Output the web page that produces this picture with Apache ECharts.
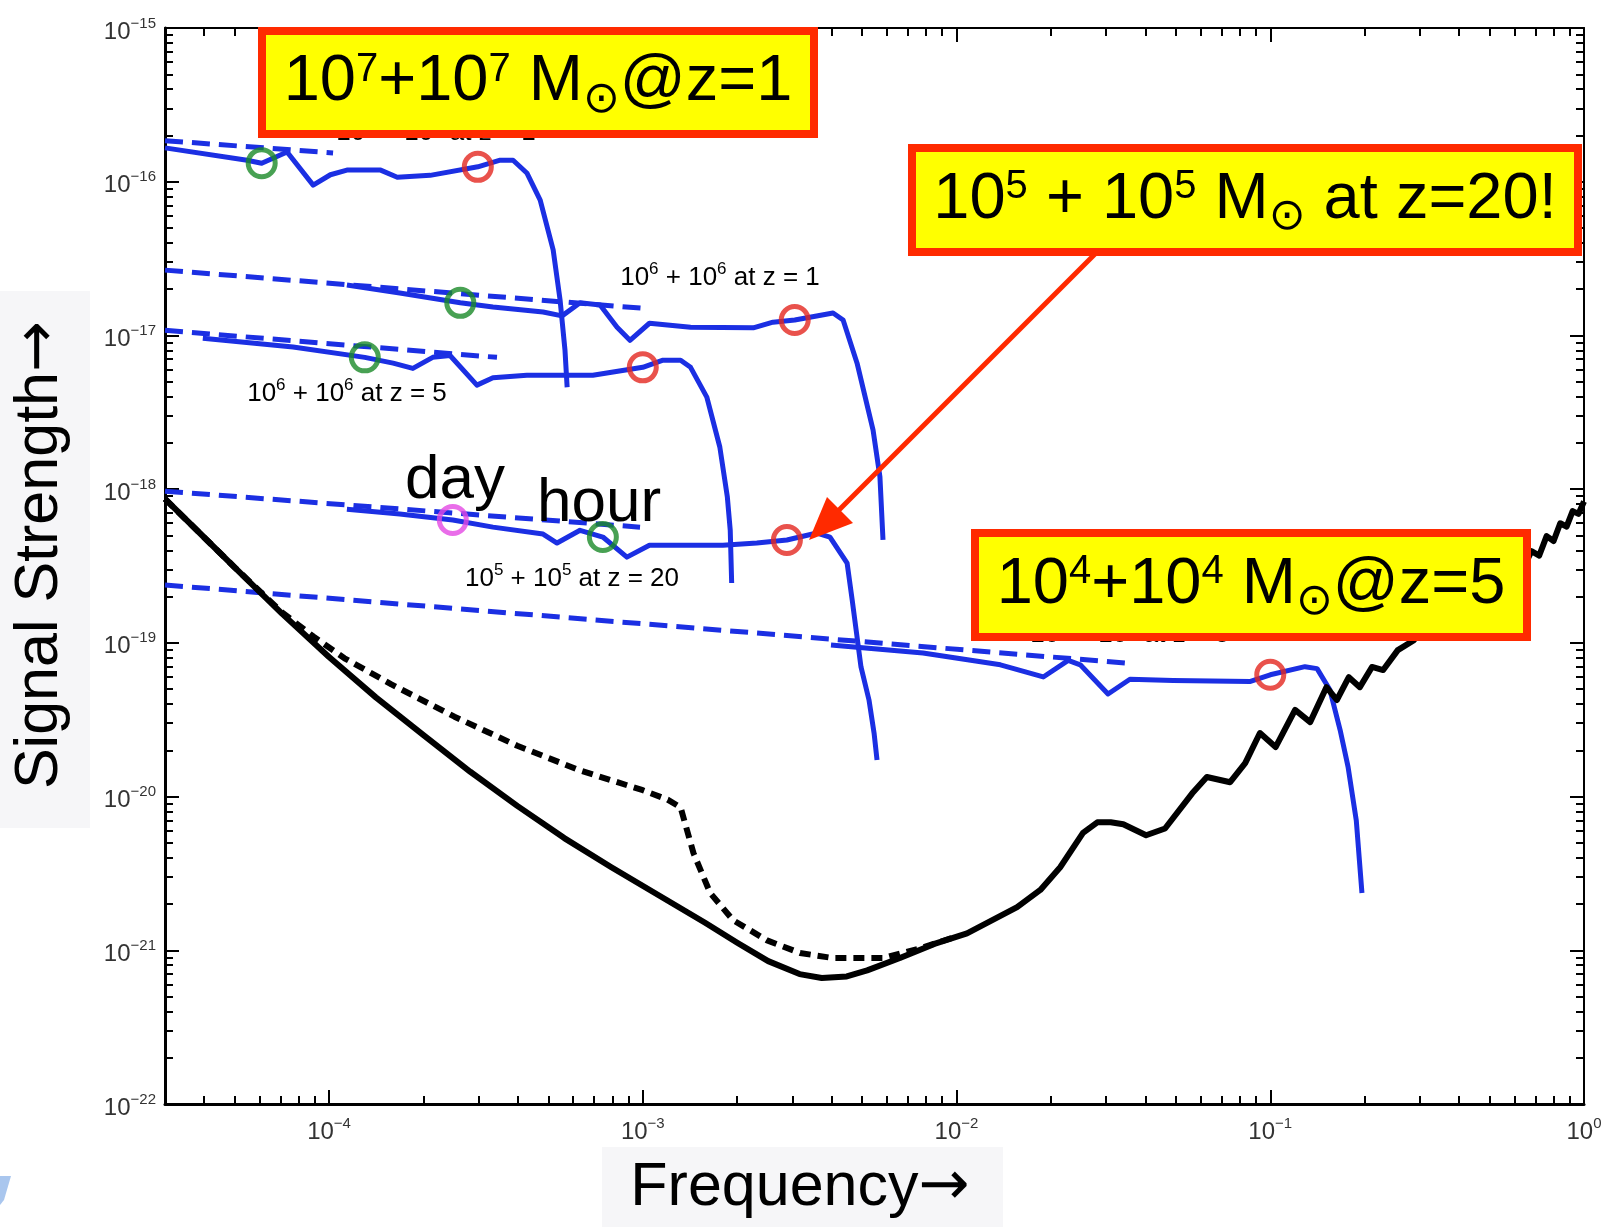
<!DOCTYPE html>
<html>
<head>
<meta charset="utf-8">
<script src="https://cdn.jsdelivr.net/npm/echarts@6/dist/echarts.min.js"></script>
<style>
  html, body { margin: 0; padding: 0; background: #fff; }
  #chart { width: 1613px; height: 1227px; }
</style>
</head>
<body>
<div id="chart"></div>
<script>
// ---- data: [frequency (Hz), strain] ----

// instrument sensitivity (solid) and with confusion noise (dashed)
const noiseSolid = [
  [3.0e-5, 8.63e-19], [3.98e-5, 4.9e-19], [5.01e-5, 3.09e-19], [7.08e-5, 1.55e-19],
  [1.0e-4, 8.1e-20], [1.41e-4, 4.42e-20], [2.0e-4, 2.51e-20], [2.82e-4, 1.45e-20],
  [3.98e-4, 8.7e-21], [5.62e-4, 5.37e-21], [7.94e-4, 3.47e-21], [1.12e-3, 2.29e-21],
  [1.58e-3, 1.51e-21], [2.0e-3, 1.12e-21], [2.51e-3, 8.5e-22], [3.16e-3, 7.0e-22],
  [3.72e-3, 6.6e-22], [4.47e-3, 6.76e-22], [5.19e-3, 7.4e-22], [6.6e-3, 8.9e-22],
  [8.5e-3, 1.1e-21], [1.08e-2, 1.29e-21], [1.56e-2, 1.91e-21], [1.85e-2, 2.47e-21],
  [2.14e-2, 3.47e-21], [2.53e-2, 5.8e-21], [2.81e-2, 6.8e-21], [3.1e-2, 6.8e-21],
  [3.4e-2, 6.6e-21], [4.02e-2, 5.6e-21], [4.62e-2, 6.2e-21], [5.64e-2, 1.05e-20],
  [6.28e-2, 1.34e-20], [7.45e-2, 1.24e-20], [8.32e-2, 1.65e-20], [9.27e-2, 2.59e-20],
  [0.104, 2.1e-20], [0.120, 3.66e-20], [0.134, 3.05e-20], [0.151, 5.15e-20],
  [0.163, 4.25e-20], [0.178, 5.98e-20], [0.193, 5.15e-20], [0.211, 6.97e-20],
  [0.229, 6.65e-20], [0.255, 8.97e-20], [0.287, 1.04e-19], [0.30, 1.2e-19],
  [0.325, 1.1e-19], [0.35, 1.5e-19], [0.375, 1.35e-19], [0.40, 1.85e-19],
  [0.43, 1.65e-19], [0.46, 2.25e-19], [0.49, 2.05e-19], [0.52, 2.7e-19],
  [0.56, 2.5e-19], [0.60, 3.3e-19], [0.64, 3.05e-19], [0.68, 3.95e-19],
  [0.72, 3.7e-19], [0.76, 4.95e-19], [0.80, 4.6e-19], [0.84, 6.0e-19],
  [0.88, 5.7e-19], [0.92, 7.2e-19], [0.96, 6.9e-19], [1.0, 8.3e-19]
];
const noiseDashed = [
  [3.0e-5, 8.63e-19], [5.01e-5, 3.09e-19], [7.08e-5, 1.58e-19], [8.91e-5, 1.10e-19],
  [1.12e-4, 7.94e-20], [1.58e-4, 5.37e-20], [2.51e-4, 3.31e-20], [3.98e-4, 2.14e-20],
  [6.31e-4, 1.48e-20], [1.0e-3, 1.10e-20], [1.2e-3, 9.55e-21], [1.32e-3, 8.5e-21],
  [1.45e-3, 4.3e-21], [1.64e-3, 2.36e-21], [1.94e-3, 1.57e-21], [2.49e-3, 1.16e-21],
  [3.17e-3, 9.6e-22], [4.04e-3, 8.9e-22], [5.83e-3, 8.9e-22], [7.65e-3, 1.03e-21],
  [1.0e-2, 1.23e-21]
];

// 10^7 + 10^7 at z = 1
const m7z1Inspiral = [[3.0e-5, 1.85e-16], [1.03e-4, 1.54e-16]];
const m7z1Signal = [
  [3.0e-5, 1.66e-16], [5.48e-5, 1.38e-16], [6.1e-5, 1.32e-16], [7.35e-5, 1.56e-16],
  [8.9e-5, 9.5e-17], [1.01e-4, 1.11e-16], [1.14e-4, 1.19e-16], [1.46e-4, 1.19e-16],
  [1.65e-4, 1.07e-16], [2.1e-4, 1.1e-16], [2.98e-4, 1.25e-16], [3.51e-4, 1.38e-16],
  [3.86e-4, 1.38e-16], [4.27e-4, 1.14e-16], [4.71e-4, 7.6e-17], [5.18e-4, 3.6e-17],
  [5.45e-4, 1.7e-17], [5.65e-4, 8.0e-18], [5.74e-4, 4.6e-18]
];

// 10^6 + 10^6 at z = 1
const m6z1Inspiral = [[3.0e-5, 2.66e-17], [1.05e-3, 1.49e-17]];
const m6z1Signal = [
  [1.14e-4, 2.13e-17], [1.68e-4, 1.89e-17], [2.62e-4, 1.63e-17], [3.33e-4, 1.53e-17],
  [4.81e-4, 1.42e-17], [5.53e-4, 1.34e-17], [6.31e-4, 1.63e-17], [7.31e-4, 1.58e-17],
  [8.28e-4, 1.13e-17], [9.1e-4, 9.3e-18], [1.05e-3, 1.2e-17], [1.42e-3, 1.13e-17],
  [2.25e-3, 1.12e-17], [2.6e-3, 1.22e-17], [3.05e-3, 1.26e-17], [4.04e-3, 1.40e-17],
  [4.35e-3, 1.26e-17], [4.82e-3, 6.6e-18], [5.42e-3, 2.42e-18], [5.7e-3, 1.2e-18],
  [5.83e-3, 4.67e-19]
];

// 10^6 + 10^6 at z = 5
const m6z5Inspiral = [[3.0e-5, 1.08e-17], [3.43e-4, 7.2e-18]];
const m6z5Signal = [
  [3.96e-5, 9.6e-18], [7.68e-5, 8.4e-18], [1.30e-4, 7.2e-18], [1.60e-4, 6.6e-18],
  [1.85e-4, 6.1e-18], [2.14e-4, 7.2e-18], [2.43e-4, 7.4e-18], [2.96e-4, 4.75e-18],
  [3.33e-4, 5.3e-18], [4.27e-4, 5.5e-18], [6.93e-4, 5.5e-18], [1.0e-3, 6.2e-18],
  [1.16e-3, 6.9e-18], [1.32e-3, 6.9e-18], [1.42e-3, 6.2e-18], [1.60e-3, 3.97e-18],
  [1.76e-3, 1.88e-18], [1.86e-3, 8.9e-19], [1.90e-3, 5.4e-19], [1.92e-3, 2.45e-19]
];

// 10^5 + 10^5 at z = 20
const m5z20Inspiral = [[3.0e-5, 9.7e-19], [9.8e-4, 5.66e-19]];
const m5z20Signal = [
  [1.14e-4, 7.4e-19], [1.68e-4, 6.9e-19], [2.48e-4, 6.3e-19], [3.33e-4, 5.66e-19],
  [4.81e-4, 5.1e-19], [5.33e-4, 4.46e-19], [6.31e-4, 5.4e-19], [7.46e-4, 4.88e-19],
  [8.9e-4, 3.61e-19], [1.05e-3, 4.32e-19], [1.80e-3, 4.32e-19], [2.31e-3, 4.46e-19],
  [2.88e-3, 4.67e-19], [3.59e-3, 5.18e-19], [3.95e-3, 4.88e-19], [4.48e-3, 3.3e-19],
  [4.65e-3, 1.9e-19], [4.96e-3, 6.97e-20], [5.26e-3, 4.25e-20], [5.46e-3, 2.59e-20],
  [5.58e-3, 1.73e-20]
];

// 10^4 + 10^4 at z = 5
const m4z5Inspiral = [[3.0e-5, 2.38e-19], [3.44e-2, 7.4e-20]];
const m4z5Signal = [
  [3.98e-3, 9.7e-20], [7.82e-3, 8.6e-20], [1.38e-2, 7.2e-20], [1.89e-2, 6.0e-20],
  [2.27e-2, 7.7e-20], [2.48e-2, 7.2e-20], [3.04e-2, 4.65e-20], [3.57e-2, 5.8e-20],
  [4.9e-2, 5.7e-20], [8.6e-2, 5.6e-20], [0.1, 6.2e-20], [0.129, 7.0e-20],
  [0.141, 6.8e-20], [0.155, 4.93e-20], [0.167, 2.71e-20], [0.177, 1.56e-20],
  [0.188, 7.0e-21], [0.196, 2.36e-21]
];

// ring markers on the tracks
const greenRings = [[6.1e-5, 1.32e-16], [2.62e-4, 1.63e-17], [1.30e-4, 7.2e-18], [7.46e-4, 4.88e-19]];
const redRings = [[2.98e-4, 1.25e-16], [3.05e-3, 1.26e-17], [1.0e-3, 6.2e-18], [2.88e-3, 4.67e-19], [0.1, 6.2e-20]];
const dayRing = [[2.48e-4, 6.3e-19]];

// axis ticks
const xMin = 3e-5, xMax = 1;
const yMin = 1e-22, yMax = 1e-15;
const xDecades = [1e-4, 1e-3, 1e-2, 1e-1, 1];
const yDecades = [1e-22, 1e-21, 1e-20, 1e-19, 1e-18, 1e-17, 1e-16, 1e-15];

function minorTicks(lo, hi) {
  const out = [];
  for (let e = Math.floor(Math.log10(lo)); e < Math.round(Math.log10(hi)); e++) {
    for (let k = 2; k <= 9; k++) {
      const v = k * Math.pow(10, e);
      if (v > lo * 1.0001 && v < hi) out.push(v);
    }
  }
  return out;
}
const xMinor = minorTicks(xMin, xMax);
const yMinor = minorTicks(yMin, yMax);

// ---- styling ----
const FONT = '"Liberation Sans", Arial, Helvetica, sans-serif';
const ARROW_FONT = '"DejaVu Sans", sans-serif';
const BLUE = '#1b2fe3';
const RED_BOX = '#ff2a00';

function powerLabel(v) {
  const e = Math.round(Math.log10(v));
  return '{b|10}{e|' + (e < 0 ? '\u2212' + (-e) : String(e)) + '}';
}
const tickRich = {
  b: { fontSize: 24, fontFamily: FONT, color: '#333', lineHeight: 24, padding: [8, 0, 0, 0] },
  e: { fontSize: 15, fontFamily: FONT, color: '#333', lineHeight: 15, verticalAlign: 'top' }
};

function majorAxis(dim, position, isLabelled, lineWidth) {
  const decades = dim === 'x' ? xDecades : yDecades;
  return {
    type: 'log', logBase: 10, position,
    min: dim === 'x' ? xMin : yMin, max: dim === 'x' ? xMax : yMax,
    axisLine: { show: true, onZero: false, lineStyle: { color: '#000', width: lineWidth } },
    axisTick: { show: true, inside: true, length: 14, customValues: decades, lineStyle: { color: '#000', width: 2 } },
    axisLabel: isLabelled
      ? { show: true, customValues: decades, formatter: powerLabel, rich: tickRich, margin: dim === 'x' ? 12 : 9 }
      : { show: false },
    splitLine: { show: false },
    minorTick: { show: false }
  };
}
function minorAxis(dim, position) {
  return {
    type: 'log', logBase: 10, position,
    min: dim === 'x' ? xMin : yMin, max: dim === 'x' ? xMax : yMax,
    axisLine: { show: false, onZero: false },
    axisTick: { show: true, inside: true, length: 8, customValues: dim === 'x' ? xMinor : yMinor, lineStyle: { color: '#000', width: 2 } },
    axisLabel: { show: false },
    splitLine: { show: false }
  };
}

function curve(name, data, color, width, dash, z) {
  return {
    name, type: 'line', data, xAxisIndex: 0, yAxisIndex: 0,
    showSymbol: false, symbol: 'none', silent: true, clip: true,
    lineStyle: { color, width, type: dash || 'solid', cap: 'butt', join: 'round' },
    z: z || 2
  };
}
function rings(name, data, color) {
  return {
    name, type: 'scatter', data, xAxisIndex: 0, yAxisIndex: 0,
    symbol: 'circle', symbolSize: 27, silent: true,
    itemStyle: { color: 'rgba(0,0,0,0)', borderColor: color, borderWidth: 5 },
    z: 6
  };
}

const blueDash = [18, 9];
const blackDash = [11, 7];

const bigRich = {
  n: { fontSize: 65, fontFamily: FONT, color: '#000', lineHeight: 80 },
  s: { fontSize: 40, fontFamily: FONT, color: '#000', lineHeight: 40, verticalAlign: 'top', padding: [7, 0, 0, 0] },
  o: { fontSize: 44, fontFamily: ARROW_FONT, color: '#000', lineHeight: 44, verticalAlign: 'bottom' }
};
const smallRich = {
  t: { fontSize: 26, fontFamily: FONT, color: '#2b2b2b', lineHeight: 28, padding: [6, 0, 0, 0] },
  s: { fontSize: 17, fontFamily: FONT, color: '#2b2b2b', lineHeight: 17, verticalAlign: 'top' }
};
const titleRich = {
  w: { fontSize: 61, fontFamily: FONT, color: '#000', lineHeight: 70 },
  a: { fontSize: 61, fontFamily: ARROW_FONT, color: '#000', lineHeight: 70 }
};

function calloutBox(x, y, w, h, text) {
  return [
    { type: 'rect', z: 100, shape: { x: x + 4, y: y + 4, width: w - 8, height: h - 8 },
      style: { fill: '#ffff00', stroke: RED_BOX, lineWidth: 8 } },
    { type: 'text', z: 101, x: x + w / 2, y: y + h / 2,
      style: { text, rich: bigRich, align: 'center', verticalAlign: 'middle' } }
  ];
}
function trackLabel(cx, cy, text) {
  return { type: 'text', z: 50, x: cx, y: cy,
    style: { text, rich: smallRich, align: 'center', verticalAlign: 'middle' } };
}

const chart = echarts.init(document.getElementById('chart'), null, { renderer: 'canvas', width: 1613, height: 1227 });

chart.setOption({
  backgroundColor: '#ffffff',
  animation: false,
  grid: { left: 165, right: 29, top: 28, bottom: 123, containLabel: false },
  xAxis: [
    majorAxis('x', 'bottom', true, 3),
    minorAxis('x', 'bottom'),
    majorAxis('x', 'top', false, 2),
    minorAxis('x', 'top')
  ],
  yAxis: [
    majorAxis('y', 'left', true, 3),
    minorAxis('y', 'left'),
    majorAxis('y', 'right', false, 2),
    minorAxis('y', 'right')
  ],
  series: [
    curve('10^7 inspiral', m7z1Inspiral, BLUE, 5, blueDash),
    curve('10^7 signal', m7z1Signal, BLUE, 5),
    curve('10^6 z1 inspiral', m6z1Inspiral, BLUE, 5, blueDash),
    curve('10^6 z1 signal', m6z1Signal, BLUE, 5),
    curve('10^6 z5 inspiral', m6z5Inspiral, BLUE, 5, blueDash),
    curve('10^6 z5 signal', m6z5Signal, BLUE, 5),
    curve('10^5 z20 inspiral', m5z20Inspiral, BLUE, 5, blueDash),
    curve('10^5 z20 signal', m5z20Signal, BLUE, 5),
    curve('10^4 z5 inspiral', m4z5Inspiral, BLUE, 5, blueDash),
    curve('10^4 z5 signal', m4z5Signal, BLUE, 5),
    curve('noise dashed', noiseDashed, '#000', 6, blackDash, 3),
    curve('noise', noiseSolid, '#000', 6, null, 3),
    rings('green rings', greenRings, '#1a8a28'),
    rings('red rings', redRings, '#e3271f'),
    rings('day ring', dayRing, '#e448e4')
  ],
  graphic: [
    // axis titles
    { type: 'rect', z: 1, shape: { x: 0, y: 291, width: 90, height: 537 }, style: { fill: '#f6f6f8' } },
    { type: 'text', z: 2, x: 40, y: 555, rotation: Math.PI / 2,
      style: { text: '{w|Signal Strength}{a|\u2192}', rich: titleRich, align: 'center', verticalAlign: 'middle' } },
    { type: 'rect', z: 1, shape: { x: 602, y: 1147, width: 401, height: 80 }, style: { fill: '#f6f6f8' } },
    { type: 'text', z: 2, x: 800, y: 1188,
      style: { text: '{w|Frequency}{a|\u2192}', rich: titleRich, align: 'center', verticalAlign: 'middle' } },
    { type: 'polygon', z: 2, shape: { points: [[0, 1176], [11, 1176], [4, 1200], [0, 1205]] }, style: { fill: '#a9c6ee' } },

    // track labels
    trackLabel(436, 130, '{t|10}{s|7}{t| + 10}{s|7}{t| at z = 1}'),
    trackLabel(720, 275, '{t|10}{s|6}{t| + 10}{s|6}{t| at z = 1}'),
    trackLabel(347, 391, '{t|10}{s|6}{t| + 10}{s|6}{t| at z = 5}'),
    trackLabel(572, 576, '{t|10}{s|5}{t| + 10}{s|5}{t| at z = 20}'),
    trackLabel(1130, 632, '{t|10}{s|4}{t| + 10}{s|4}{t| at z = 5}'),

    // day / hour
    { type: 'text', z: 50, x: 405, y: 481, style: { text: 'day', font: '62px ' + FONT, fill: '#000', align: 'left', verticalAlign: 'middle' } },
    { type: 'text', z: 50, x: 537, y: 504, style: { text: 'hour', font: '62px ' + FONT, fill: '#000', align: 'left', verticalAlign: 'middle' } },

    // callouts
    ...calloutBox(258, 27, 560, 111, '{n|10}{s|7}{n|+10}{s|7}{n| M}{o|\u2299}{n|@z=1}'),
    ...calloutBox(908, 144, 674, 112, '{n|10}{s|5}{n| + 10}{s|5}{n| M}{o|\u2299}{n| at z=20!}'),
    ...calloutBox(971, 529, 560, 112, '{n|10}{s|4}{n|+10}{s|4}{n| M}{o|\u2299}{n|@z=5}'),

    // arrow from the z=20 callout
    { type: 'line', z: 100, shape: { x1: 1097, y1: 252, x2: 836, y2: 513 }, style: { stroke: RED_BOX, lineWidth: 5 } },
    { type: 'polygon', z: 100, shape: { points: [[809, 540], [853, 523], [827, 497]] }, style: { fill: RED_BOX } }
  ]
});
</script>
</body>
</html>
